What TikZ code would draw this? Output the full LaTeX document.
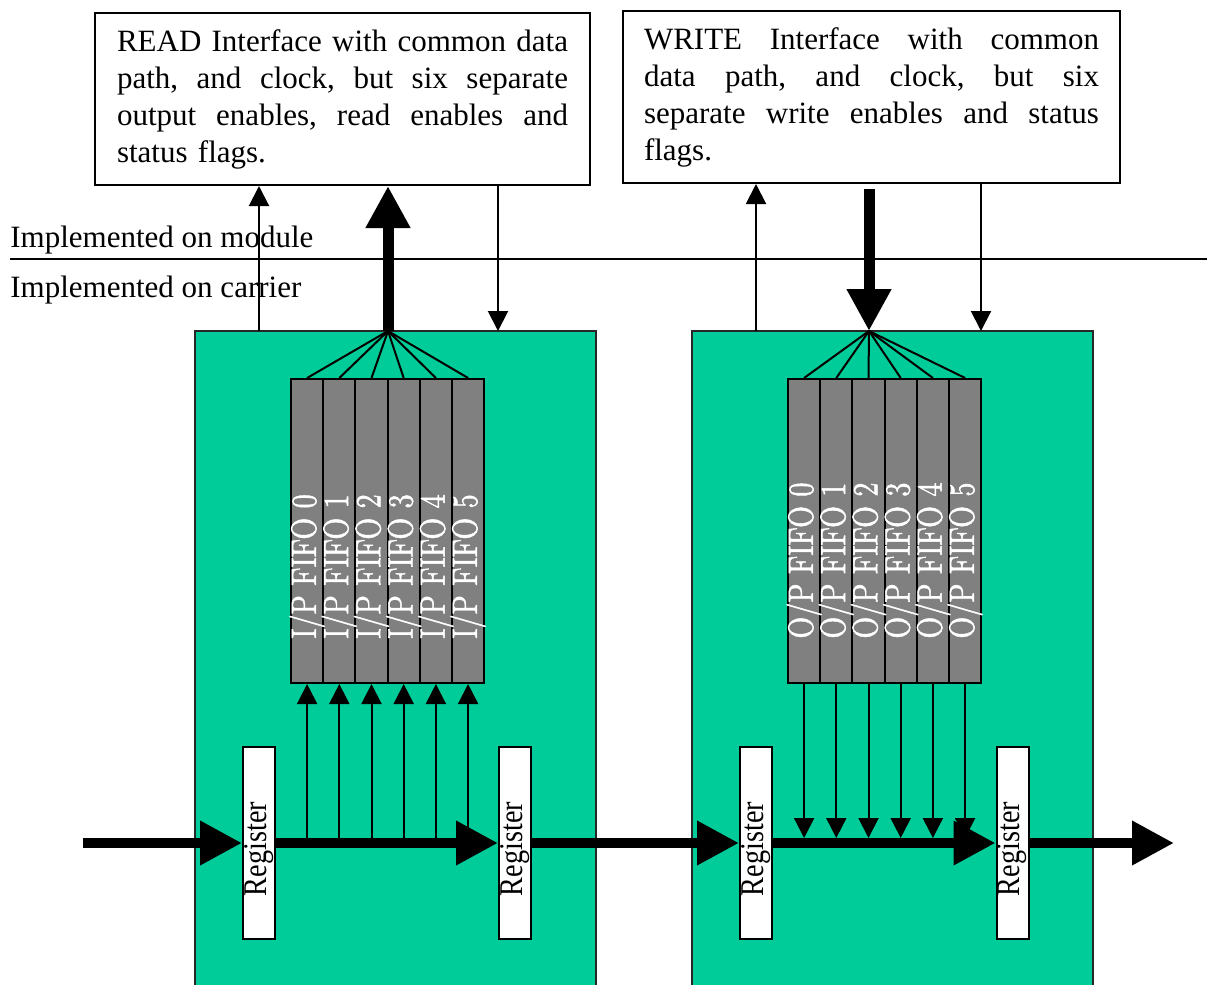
\documentclass[tikz,border=0pt]{standalone}
\usepackage{fontspec}
\newfontfamily\timesfont{Liberation Serif}
\newfontfamily\fifofont[FakeBold=1.5]{lmroman10-regular.otf}
\usetikzlibrary{arrows.meta}
\definecolor{carrier}{RGB}{0,204,153}
\definecolor{fifogray}{RGB}{128,128,128}
% one fully justified line of given width, words separated by \hfill
\newcommand\jline[2]{\leavevmode\hbox to #1{#2}}
% vertical label for a FIFO column
\newcommand\fifolabel[1]{\scalebox{0.8}[1]{#1}}
% vertical label for a register
\newcommand\reglabel{\rotatebox{90}{\scalebox{0.85}[1]{Register}\hspace*{6pt}}}
\begin{document}
\begin{tikzpicture}[x=0.5pt,y=-0.5pt,
  txt/.style={font=\timesfont\fontsize{15.5}{18.5}\selectfont},
  ifbox/.style={draw=black, line width=1pt, fill=white, txt, align=left,
    minimum height=86pt, inner ysep=0pt},
  board/.style={draw=black!85, line width=1pt, fill=carrier, inner sep=0pt,
    minimum width=200.5pt, minimum height=329.5pt},
  fifo/.style={draw=black, line width=1pt, fill=fifogray, inner sep=0pt,
    minimum width=16.1pt, minimum height=152pt},
  fifotxt/.style={rotate=90, anchor=west, text=white, inner sep=0pt,
    font=\fifofont\fontsize{17.6}{17.6}\selectfont},
  regbox/.style={draw=black, line width=1pt, fill=white, inner sep=0pt,
    minimum width=16pt, minimum height=96pt,
    font=\timesfont\fontsize{16.6}{18}\selectfont},
  wire/.style={line width=1pt},
  sig/.style={line width=1pt, -{Triangle[length=10pt,width=10pt]}},
  bus/.style={line width=5pt, -{Triangle[length=21pt,width=21pt]}},
  bigarrow/.style={line width=5.5pt, -{Triangle[length=21pt,width=21pt]}}]
\clip (0,0) rectangle (1210,985);

% interface description boxes
\node[ifbox, text width=225.5pt, inner xsep=11pt] (read) at (342.5,99)
  {\jline{225.5pt}{READ\hfill Interface\hfill with\hfill common\hfill data}\\
   \jline{225.5pt}{path,\hfill and\hfill clock,\hfill but\hfill six\hfill separate}\\
   \jline{225.5pt}{output\hfill enables,\hfill read\hfill enables\hfill and}\\
   status flags.};
\node[ifbox, text width=227.5pt, inner xsep=10.5pt] (write) at (871.5,97)
  {\jline{227.5pt}{WRITE\hfill Interface\hfill with\hfill common}\\
   \jline{227.5pt}{data\hfill path,\hfill and\hfill clock,\hfill but\hfill six}\\
   \jline{227.5pt}{separate\hfill write\hfill enables\hfill and\hfill status}\\
   flags.};

% module / carrier boundary
\node[txt, anchor=base west, inner sep=0pt] (onmod) at (10,247) {Implemented on module};
\node[txt, anchor=base west, inner sep=0pt] (oncar) at (10,297) {Implemented on carrier};
\coordinate (sepL) at (10,259);
\coordinate (sepR) at (1207,259);
\draw[wire] (sepL) -- (sepR);

% carrier boards
\node[board] (carA) at (395.5,660.5) {};
\node[board] (carB) at (892,660.5) {};

% FIFO banks
\foreach \k in {0,...,5} {
  \node[fifo] (ip\k) at ({307.1+32.2*\k},531) {};
  \node[fifo] (op\k) at ({804.1+32.2*\k},531) {};
}
\foreach \k in {0,...,5} {
  \node[fifotxt] at ([yshift=22.5pt]ip\k.south) {\fifolabel{I/P FIFO \k}};
  \node[fifotxt] at ([yshift=22.5pt]op\k.south) {\fifolabel{O/P FIFO \k}};
}

% fan-out from the common data paths
\coordinate (hubA) at (388,331);
\coordinate (hubB) at (869,331);
\foreach \k in {0,...,5} {
  \draw[wire] (hubA) -- (ip\k.north);
  \draw[wire] (hubB) -- (op\k.north);
}

% links between interfaces and carriers
\draw[bigarrow] (hubA) -- (hubA |- read.south);
\draw[bigarrow] ([yshift=-2.5pt]hubB |- write.south) -- (hubB);
\coordinate (a1) at (259,331);
\coordinate (a2) at (498,331);
\coordinate (b1) at (756,331);
\coordinate (b2) at (981,331);
\draw[sig] (a1) -- (a1 |- read.south);
\draw[sig] (a2 |- read.south) -- (a2);
\draw[sig] (b1) -- (b1 |- write.south);
\draw[sig] (b2 |- write.south) -- (b2);

% registers on the data path
\node[regbox] (r1) at (259,843) {\reglabel};
\node[regbox] (r2) at (515,843) {\reglabel};
\node[regbox] (r3) at (756,843) {\reglabel};
\node[regbox] (r4) at (1012.5,843) {\reglabel};

% main data path
\coordinate (din) at (83,843);
\coordinate (dout) at (1174,843);
\coordinate (busTop) at (0,838);
\draw[bus] (din) -- (r1.west);
\draw[bus] (r1.east) -- (r2.west);
\draw[bus] (r2.east) -- (r3.west);
\draw[bus] (r3.east) -- (r4.west);
\draw[bus] (r4.east) -- (dout);

% taps into the input FIFOs and out of the output FIFOs
\foreach \k in {0,...,5} {
  \draw[sig] (ip\k.south |- din) -- (ip\k.south);
  \draw[sig] (op\k.south) -- (op\k.south |- busTop);
}
\end{tikzpicture}
\end{document}
